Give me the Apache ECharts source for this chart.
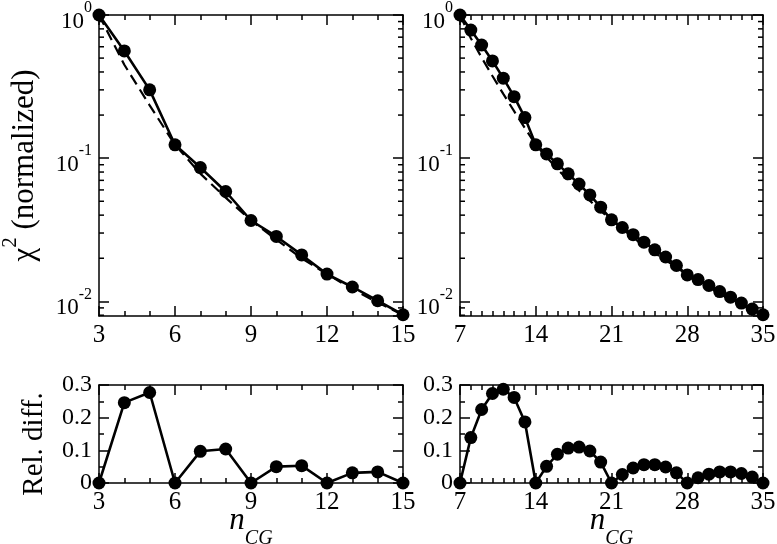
<!DOCTYPE html>
<html><head><meta charset="utf-8">
<script src="https://cdn.jsdelivr.net/npm/echarts@6/dist/echarts.min.js"></script>
<style>html,body{margin:0;padding:0;background:#fff}#c{width:777px;height:544px}</style>
</head><body><div id="c"></div>
<script>
// ---------- data ----------
const nLeft   = [3,4,5,6,7,8,9,10,11,12,13,14,15];
const chiLeft = [1.0,0.561,0.30,0.124,0.086,0.0585,0.0367,0.0284,0.0211,0.0155,0.0126,0.0101,0.00806];
const fitLeft = [1.0,0.449,0.234,0.124,0.078,0.053,0.0367,0.027,0.020,0.0155,0.0122,0.0098,0.00806];
const relLeft = [0,0.246,0.277,0,0.097,0.104,0,0.050,0.053,0,0.031,0.034,0];

const nRight   = [7,8,9,10,11,12,13,14,15,16,17,18,19,20,21,22,23,24,25,26,27,28,29,30,31,32,33,34,35];
const chiRight = [1.0,0.785,0.617,0.478,0.362,0.269,0.192,0.124,0.107,0.0913,0.0777,0.0659,0.0554,0.0455,0.0371,
                  0.0328,0.0292,0.0259,0.0229,0.0204,0.0178,0.0153,0.0142,0.0129,0.0117,0.0107,0.00973,0.00883,0.00806];
const fitRight = [1.0,0.689,0.504,0.375,0.281,0.213,0.162,0.124,0.102,0.0839,0.0702,0.0594,0.0505,0.0428,0.0371,
                  0.0320,0.0279,0.0245,0.0217,0.0194,0.0173,0.0153,0.0140,0.0126,0.0113,0.0103,0.00946,0.00867,0.00806];
const relRight = [0,0.139,0.225,0.274,0.287,0.262,0.187,0,0.051,0.088,0.107,0.110,0.098,0.064,0,
                  0.026,0.046,0.056,0.056,0.049,0.031,0,0.016,0.027,0.034,0.034,0.029,0.018,0];

const xTicksLeft  = [3,6,9,12,15];
const xTicksRight = [7,14,21,28,35];
const relTicks    = [0,0.1,0.2,0.3];
const logRange    = [0.0079,1];

// ---------- chart ----------
const FONT = 'Liberation Serif';
const chart = echarts.init(document.getElementById('c'));
const grids = [
  {left:99,  top:15,  width:304, height:301, outerBoundsMode:'none', containLabel:false},
  {left:460, top:15,  width:303, height:301, outerBoundsMode:'none', containLabel:false},
  {left:99,  top:385, width:304, height:98,  outerBoundsMode:'none', containLabel:false},
  {left:460, top:385, width:303, height:98,  outerBoundsMode:'none', containLabel:false}
];
const lineS = {color:'#000', width:1.5};
function xAxis(g, ticks, minorSplit, pos, label, name){
  const ax = {
    type:'value', gridIndex:g, position:pos,
    min:ticks[0], max:ticks[ticks.length-1], interval:ticks[1]-ticks[0],
    axisLine:{show:true,onZero:false,lineStyle:lineS},
    axisTick:{show:true,inside:true,length:10,lineStyle:lineS},
    minorTick:{show:true,splitNumber:minorSplit,length:5,lineStyle:lineS},
    splitLine:{show:false}, minorSplitLine:{show:false},
    axisLabel:{show:label,fontFamily:FONT,fontSize:25,color:'#000',margin:7,showMinLabel:true,showMaxLabel:true}
  };
  if (name) {
    ax.name = '{n|n}{c|CG}';
    ax.nameLocation = 'middle';
    ax.nameGap = 22;
    ax.nameMoveOverlap = false;
    ax.nameTextStyle = {fontFamily:FONT, color:'#000', rich:{
      n:{fontFamily:FONT,fontStyle:'italic',fontSize:31,lineHeight:31,verticalAlign:'middle',color:'#000'},
      c:{fontFamily:FONT,fontStyle:'italic',fontSize:20,lineHeight:20,padding:[36,0,0,0],verticalAlign:'middle',color:'#000'}
    }};
  }
  return ax;
}
function logAxis(g, pos, label, name){
  const ax = {
    type:'log', logBase:10, gridIndex:g, position:pos,
    min:logRange[0], max:logRange[1],
    axisLine:{show:true,onZero:false,lineStyle:lineS},
    axisTick:{show:true,inside:true,length:10,lineStyle:lineS},
    minorTick:{show:false}, splitLine:{show:false},
    axisLabel:{show:label, margin:7, showMinLabel:false, showMaxLabel:true,
      formatter:function(v){const e=Math.round(Math.log10(v)); return '{b|10}{s|'+e+'}';},
      rich:{
        b:{fontFamily:FONT,fontSize:23,lineHeight:23,padding:[14,0,0,0],verticalAlign:'middle',color:'#000'},
        s:{fontFamily:FONT,fontSize:16,lineHeight:16,padding:[0,0,14,0],verticalAlign:'middle',color:'#000'}
      }}
  };
  if (name) {
    ax.name = '{a|χ}{s|2}{a| (normalized)}';
    ax.nameLocation='middle'; ax.nameRotate=90; ax.nameGap=59; ax.nameMoveOverlap=false;
    ax.nameTextStyle={fontFamily:FONT,color:'#000',rich:{
      a:{fontFamily:FONT,fontSize:31,lineHeight:31,verticalAlign:'middle',color:'#000'},
      s:{fontFamily:FONT,fontSize:21,lineHeight:21,padding:[0,0,28,0],verticalAlign:'middle',color:'#000'}
    }};
  }
  return ax;
}
function relAxis(g, pos, label, name){
  const ax = {
    type:'value', gridIndex:g, position:pos,
    min:relTicks[0], max:relTicks[relTicks.length-1], interval:relTicks[1]-relTicks[0],
    axisLine:{show:true,onZero:false,lineStyle:lineS},
    axisTick:{show:true,inside:true,length:10,lineStyle:lineS},
    minorTick:{show:true,splitNumber:2,length:5,lineStyle:lineS},
    splitLine:{show:false}, minorSplitLine:{show:false},
    axisLabel:{show:label,fontFamily:FONT,fontSize:24,color:'#000',margin:7,
      formatter:function(v){return v===0?'0':(+v).toFixed(1);}}
  };
  if (name) {
    ax.name='Rel. diff.'; ax.nameLocation='middle'; ax.nameRotate=90; ax.nameGap=50; ax.nameMoveOverlap=false;
    ax.nameTextStyle={fontFamily:FONT,fontSize:29,color:'#000',padding:[0,20,0,0]};
  }
  return ax;
}
const xAxes = [
  xAxis(0,xTicksLeft,3,'bottom',true,false),  xAxis(0,xTicksLeft,3,'top',false,false),
  xAxis(1,xTicksRight,7,'bottom',true,false), xAxis(1,xTicksRight,7,'top',false,false),
  xAxis(2,xTicksLeft,3,'bottom',true,true),   xAxis(2,xTicksLeft,3,'top',false,false),
  xAxis(3,xTicksRight,7,'bottom',true,true),  xAxis(3,xTicksRight,7,'top',false,false)
];
const yAxes = [
  logAxis(0,'left',true,true),  logAxis(0,'right',false,false),
  logAxis(1,'left',true,false), logAxis(1,'right',false,false),
  relAxis(2,'left',true,true),  relAxis(2,'right',false,false),
  relAxis(3,'left',true,false), relAxis(3,'right',false,false)
];
function zip(xs, ys){return xs.map((x,i)=>[x,ys[i]]);}
function solid(xi, xs, ys){
  return {type:'line', xAxisIndex:xi, yAxisIndex:xi, data:zip(xs,ys), symbol:'circle', symbolSize:13,
    itemStyle:{color:'#000'}, lineStyle:{color:'#000',width:2.6}, z:3, animation:false};
}
function dashed(xi, xs, ys){
  return {type:'line', xAxisIndex:xi, yAxisIndex:xi, data:zip(xs,ys), symbol:'none',
    lineStyle:{color:'#000',width:2.2,type:[11,6]}, z:2, animation:false};
}
chart.setOption({
  animation:false,
  backgroundColor:'#fff',
  grid:grids,
  xAxis:xAxes,
  yAxis:yAxes,
  series:[
    dashed(0,nLeft,fitLeft), solid(0,nLeft,chiLeft),
    dashed(2,nRight,fitRight), solid(2,nRight,chiRight),
    solid(4,nLeft,relLeft), solid(6,nRight,relRight)
  ]
});
// minor log ticks (2..9 per decade) placed through the log axes' own scale
const gfx = [];
[[0,0],[1,2]].forEach(function(p){
  const g = grids[p[0]], yi = p[1];
  for (let d=-3; d<=-1; d++){
    for (let k=2; k<=9; k++){
      const v = k*Math.pow(10,d);
      if (v < logRange[0] || v > logRange[1]) continue;
      const py = chart.convertToPixel({yAxisIndex:yi}, v);
      gfx.push({type:'line', shape:{x1:g.left, y1:py, x2:g.left+5, y2:py}, style:{stroke:'#000', lineWidth:1.5}, z:10});
      gfx.push({type:'line', shape:{x1:g.left+g.width-5, y1:py, x2:g.left+g.width, y2:py}, style:{stroke:'#000', lineWidth:1.5}, z:10});
    }
  }
});
chart.setOption({graphic:gfx});
</script>
</body></html>
